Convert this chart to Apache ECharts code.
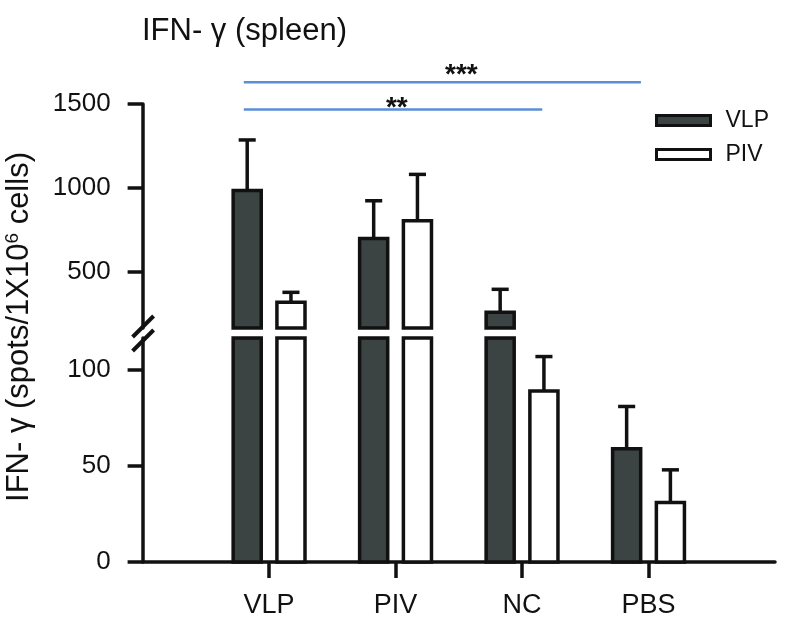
<!DOCTYPE html>
<html>
<head>
<meta charset="utf-8">
<script src="https://cdn.jsdelivr.net/npm/echarts@6/dist/echarts.min.js"></script>
<style>html,body{margin:0;padding:0;background:#fff;}#c{width:786px;height:624px;}</style>
</head>
<body>
<div id="c"></div>
<script>
// ---- data ----
const categories = ['VLP', 'PIV', 'NC', 'PBS'];
const vlpMean = [985, 700, 260, 59];
const vlpErrTop = [1286, 924, 397, 81];
const pivMean = [320, 805, 89, 31];
const pivErrTop = [379, 1081, 107, 48];
const upperTicks = [500, 1000, 1500];
const lowerTicks = [0, 50, 100];
// significance brackets
const sigX0 = [0.80, 0.80];
const sigX1 = [3.94, 3.16];
const sigY = [1630, 1468];
const sigLabel = ['***', '**'];
const sigLabelX = [2.52, 2.01];
const sigLabelY = [1708, 1512];

// ---- axis break ----
const LOWER_MAX = 350 / 3;   // ~116.7
const UPPER_MIN = 500 / 3;   // ~166.7

const FONT = '"Liberation Sans", Arial, sans-serif';
const DARK = '#3b4343';
const EDGE = '#111111';
const BLUE = '#5a8fd8';
const BAR_W = 0.222;
const OFF = 0.173;
const CAP_W = 0.135;
const LW = 3.5;

function makeRender(offset, panel, fill) {
  return function (params, api) {
    const x = api.value(0) + offset;
    const v = api.value(1);
    const e = api.value(2);
    const w = api.size([BAR_W, 0])[0];
    const cw = api.size([CAP_W, 0])[0];
    const children = [];
    let base, top, showErr;
    if (panel === 'lower') {
      base = 0; top = Math.min(v, LOWER_MAX); showErr = v <= LOWER_MAX;
    } else {
      if (v <= UPPER_MIN) return { type: 'group', children: [] };
      base = UPPER_MIN; top = v; showErr = true;
    }
    const pb = api.coord([x, base]);
    const pt = api.coord([x, top]);
    if (showErr) {
      const pe = api.coord([x, e]);
      children.push({ type: 'line', shape: { x1: pt[0], y1: pt[1], x2: pe[0], y2: pe[1] },
        style: { stroke: EDGE, lineWidth: LW } });
      children.push({ type: 'line', shape: { x1: pe[0] - cw / 2, y1: pe[1], x2: pe[0] + cw / 2, y2: pe[1] },
        style: { stroke: EDGE, lineWidth: LW } });
    }
    children.push({ type: 'rect', shape: { x: pb[0] - w / 2, y: pt[1], width: w, height: pb[1] - pt[1] },
      style: { fill: fill, stroke: EDGE, lineWidth: LW } });
    return { type: 'group', children };
  };
}

function buildData(mean, err) {
  return categories.map((c, i) => [i + 1, mean[i], err[i]]);
}

const axisLineStyle = { color: EDGE, width: LW };
const yLabel = { margin: 32, fontSize: 26, color: '#111', fontFamily: FONT, formatter: v => String(v) };

const chart = echarts.init(document.getElementById('c'), null, { renderer: 'canvas' });
const option = {
  animation: false,
  backgroundColor: '#fff',
  title: {
    text: 'IFN- γ (spleen)', left: 142, top: 16, padding: 0,
    textStyle: { fontSize: 31, fontWeight: 'normal', color: '#111', fontFamily: FONT }
  },
  legend: {
    orient: 'vertical', left: 655, top: 109, padding: 0,
    itemWidth: 54, itemHeight: 10, itemGap: 11, icon: 'rect',
    textStyle: { fontSize: 23, color: '#111', fontFamily: FONT, padding: [0, 0, 0, 10], lineHeight: 23 },
    data: [
      { name: 'VLP', itemStyle: { color: DARK, borderColor: EDGE, borderWidth: 3 } },
      { name: 'PIV', itemStyle: { color: '#fff', borderColor: EDGE, borderWidth: 3 } }
    ]
  },
  grid: [
    { left: 142.6, right: 11, top: 104, height: 224 },
    { left: 142.6, right: 11, top: 338, height: 224 }
  ],
  xAxis: [
    { gridIndex: 0, type: 'value', min: 0, max: 5, show: false },
    {
      gridIndex: 1, type: 'value', min: 0, max: 5,
      axisLine: { show: true, lineStyle: axisLineStyle },
      axisTick: { show: true, customValues: [1, 2, 3, 4], length: 16, lineStyle: axisLineStyle },
      axisLabel: {
        customValues: [1, 2, 3, 4], formatter: v => categories[Math.round(v) - 1],
        margin: 30, fontSize: 27, color: '#111', fontFamily: FONT
      },
      splitLine: { show: false }
    }
  ],
  yAxis: [
    {
      gridIndex: 0, type: 'value', min: UPPER_MIN, max: 1500,
      axisLine: { show: true, lineStyle: axisLineStyle },
      axisTick: { show: true, customValues: upperTicks, length: 15, lineStyle: axisLineStyle },
      axisLabel: Object.assign({ customValues: upperTicks }, yLabel),
      splitLine: { show: false }
    },
    {
      gridIndex: 1, type: 'value', min: 0, max: LOWER_MAX,
      axisLine: { show: true, lineStyle: axisLineStyle },
      axisTick: { show: true, customValues: lowerTicks, length: 15, lineStyle: axisLineStyle },
      axisLabel: Object.assign({ customValues: lowerTicks }, yLabel),
      splitLine: { show: false }
    }
  ],
  series: [
    { name: 'VLP', type: 'custom', xAxisIndex: 0, yAxisIndex: 0, itemStyle: { color: DARK, borderColor: EDGE },
      renderItem: makeRender(-OFF, 'upper', DARK), data: buildData(vlpMean, vlpErrTop) },
    { name: 'VLP', type: 'custom', xAxisIndex: 1, yAxisIndex: 1, itemStyle: { color: DARK, borderColor: EDGE },
      renderItem: makeRender(-OFF, 'lower', DARK), data: buildData(vlpMean, vlpErrTop) },
    { name: 'PIV', type: 'custom', xAxisIndex: 0, yAxisIndex: 0, itemStyle: { color: '#fff', borderColor: EDGE },
      renderItem: makeRender(OFF, 'upper', '#fff'), data: buildData(pivMean, pivErrTop) },
    { name: 'PIV', type: 'custom', xAxisIndex: 1, yAxisIndex: 1, itemStyle: { color: '#fff', borderColor: EDGE },
      renderItem: makeRender(OFF, 'lower', '#fff'), data: buildData(pivMean, pivErrTop) }
  ]
};
chart.setOption(option);

// annotations placed through the chart's own coordinate system
const graphics = [];
for (let i = 0; i < sigY.length; i++) {
  const a = chart.convertToPixel({ gridIndex: 0 }, [sigX0[i], sigY[i]]);
  const b = chart.convertToPixel({ gridIndex: 0 }, [sigX1[i], sigY[i]]);
  graphics.push({ type: 'line', shape: { x1: a[0], y1: a[1], x2: b[0], y2: b[1] },
    style: { stroke: BLUE, lineWidth: 2.5 }, silent: true });
  const t = chart.convertToPixel({ gridIndex: 0 }, [sigLabelX[i], sigLabelY[i]]);
  graphics.push({ type: 'text', x: t[0], y: t[1] + 6,
    style: { text: sigLabel[i], font: 'bold 28px ' + FONT, fill: '#111', textAlign: 'center', textVerticalAlign: 'middle' } });
}
// y axis break marks
const brk = chart.convertToPixel({ gridIndex: 1 }, [0, LOWER_MAX]);
const ax = brk[0], ay = brk[1];
graphics.push({ type: 'line', shape: { x1: ax - 10, y1: ay - 1, x2: ax + 11, y2: ay - 22 }, style: { stroke: EDGE, lineWidth: 4 } });
graphics.push({ type: 'line', shape: { x1: ax - 10, y1: ay + 13, x2: ax + 11, y2: ay - 8 }, style: { stroke: EDGE, lineWidth: 4 } });
// y axis name
graphics.push({
  type: 'text', x: 19, y: 327, rotation: Math.PI / 2,
  style: {
    text: 'IFN- γ (spots/1X10{sup|6} cells)',
    font: '31px ' + FONT, fill: '#111', textAlign: 'center', textVerticalAlign: 'middle',
    rich: { sup: { fontSize: 19, verticalAlign: 'top', fontFamily: FONT, fill: '#111' } }
  }
});
chart.setOption({ graphic: graphics });
</script>
</body>
</html>
